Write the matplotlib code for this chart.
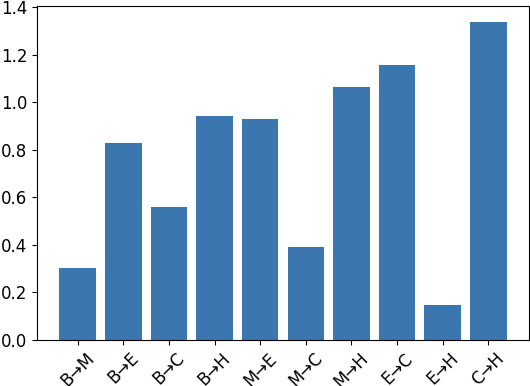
import matplotlib
matplotlib.use('Agg')
import matplotlib.pyplot as plt

labels = ['B→M', 'B→E', 'B→C', 'B→H', 'M→E', 'M→C', 'M→H', 'E→C', 'E→H', 'C→H']
values = [0.30, 0.83, 0.56, 0.94, 0.93, 0.39, 1.065, 1.155, 0.147, 1.337]

plt.rcParams['font.size'] = 12
fig, ax = plt.subplots(figsize=(5.3, 3.86), dpi=100)
ax.bar(labels, values, color='#3b76af')
plt.xticks(rotation=45)
plt.subplots_adjust(left=0.07, right=0.998, top=0.984, bottom=0.12)
plt.savefig('out.png', dpi=100)
